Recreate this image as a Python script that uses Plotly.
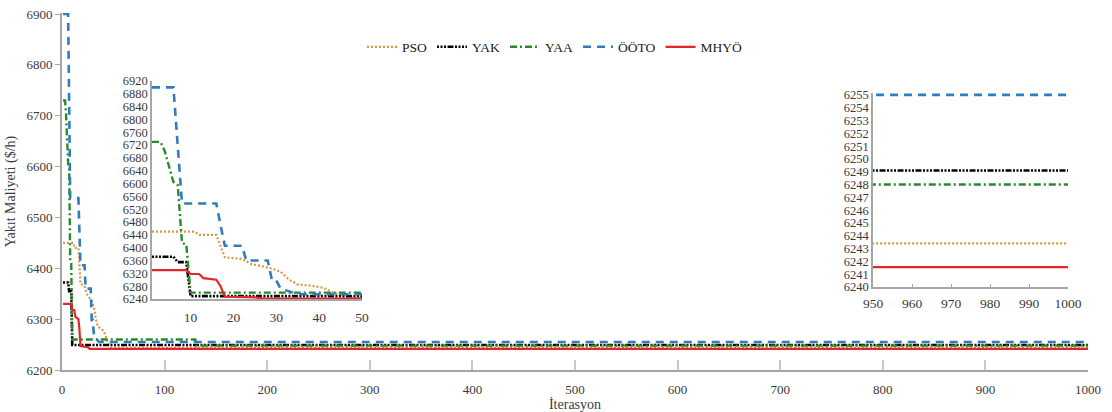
import plotly.graph_objects as go

# ---- data: (iteration, best cost) change points of each convergence curve ----
pso_iter = [1, 11, 12, 16, 18, 22, 24, 27, 29, 31, 33, 35, 38, 41, 43, 45, 48, 1000]
pso_val = [6450, 6450, 6440, 6440, 6370, 6365, 6350, 6340, 6335, 6325, 6300, 6285, 6282, 6275, 6262, 6252, 6243.4, 6243.4]

yak_iter = [1, 6, 7, 9, 10, 1000]
yak_val = [6372, 6372, 6355, 6355, 6249.1, 6249.1]

yaa_iter = [1, 3, 4, 6, 7, 8, 9, 10, 130, 131, 1000]
yaa_val = [6730, 6730, 6700, 6605, 6595, 6415, 6410, 6260, 6260, 6248, 6248]

ooto_iter = [1, 6, 8, 16, 17, 18, 22, 23, 28, 29, 30, 31, 34, 36, 1000]
ooto_val = [6900, 6900, 6538, 6538, 6470, 6406, 6406, 6360, 6360, 6298, 6298, 6272, 6260, 6255, 6255]

mhyo_iter = [1, 9, 10, 12, 13, 15, 16, 17, 18, 25, 27, 1000]
mhyo_val = [6330, 6330, 6318, 6318, 6305, 6302, 6300, 6280, 6247, 6245, 6241.55, 6241.55]

names = ["PSO", "YAK", "YAA", "ÖÖTO", "MHYÖ"]
colors = ["#DB973A", "#000000", "#2A8A2A", "#2F7DC0", "#E3262A"]
dashes = ["2px,2px", "2px,1.5px,2px,1.5px,2px,1.5px,6px,1.5px", "7px,3px,2px,3px", "8px,6px", "solid"]
widths = [2.2, 2.6, 2.4, 2.6, 2.2]
series = [(pso_iter, pso_val), (yak_iter, yak_val), (yaa_iter, yaa_val),
          (ooto_iter, ooto_val), (mhyo_iter, mhyo_val)]

FONT = "Liberation Serif"
AX = "#A6A6A6"
TXT = "#3A3A3A"

fig = go.Figure()
for axes, show in [(("x", "y"), True), (("x2", "y2"), False), (("x3", "y3"), False)]:
    for (xs, ys), n, c, d, w in zip(series, names, colors, dashes, widths):
        fig.add_trace(go.Scatter(
            x=xs, y=ys, mode="lines", name=n, showlegend=show,
            xaxis=axes[0], yaxis=axes[1],
            line=dict(color=c, dash=d, width=w),
        ))

W, H = 1112, 412
L, R, T, B = 62, 24, 13, 42
pw, ph = W - L - R, H - T - B

def dx(px):
    return (px - L) / pw

def dy(py):
    return (H - B - py) / ph

fig.update_layout(
    width=W, height=H,
    margin=dict(l=L, r=R, t=T, b=B, autoexpand=False),
    paper_bgcolor="white", plot_bgcolor="white",
    font=dict(family=FONT, size=13, color=TXT),
    legend=dict(orientation="h", x=dx(555), xanchor="center", y=dy(47), yanchor="middle",
                font=dict(family=FONT, size=13.5, color="#222222"), itemwidth=30,
                bgcolor="rgba(0,0,0,0)", tracegroupgap=0),
    xaxis=dict(range=[0, 1000], tickvals=list(range(0, 1001, 100)), showgrid=False,
               zeroline=False, showline=True, linecolor=AX, linewidth=2, automargin=False,
               ticks="inside", ticklen=10, tickcolor="#C8C8C8", tickwidth=1.5,
               ticklabelstandoff=6,
               title=dict(text="İterasyon", standoff=4, font=dict(size=14)),
               tickfont=dict(size=13)),
    yaxis=dict(range=[6200, 6902], tickvals=list(range(6200, 6901, 100)), showgrid=False,
               zeroline=False, showline=True, linecolor=AX, linewidth=2, automargin=False,
               ticks="outside", ticklen=5, tickcolor=AX,
               title=dict(text="Yakıt Maliyeti ($/h)", standoff=8, font=dict(size=14)),
               tickfont=dict(size=13)),
    xaxis2=dict(domain=[dx(152), dx(362)], anchor="y2", range=[1, 50],
                tickvals=[10, 20, 30, 40, 50], showgrid=False, zeroline=False,
                showline=True, linecolor=AX, linewidth=1.5, ticks="", automargin=False,
                ticklabelstandoff=5, tickfont=dict(size=13.5)),
    yaxis2=dict(domain=[dy(299), dy(81)], anchor="x2", range=[6240, 6920],
                tickvals=list(range(6240, 6921, 40)), showgrid=False, zeroline=False,
                showline=True, linecolor=AX, linewidth=1.5, ticks="", automargin=False,
                tickfont=dict(size=12.5)),
    xaxis3=dict(domain=[dx(873), dx(1068)], anchor="y3", range=[950, 1000],
                tickvals=list(range(950, 1001, 10)), showgrid=False, zeroline=False,
                showline=True, linecolor=AX, linewidth=1.5, ticks="inside", ticklen=3,
                tickcolor=AX, ticklabelstandoff=3, automargin=False, tickfont=dict(size=13.5)),
    yaxis3=dict(domain=[dy(287), dy(93)], anchor="x3", range=[6240, 6255.15],
                tickvals=list(range(6240, 6256, 1)), showgrid=False, zeroline=False,
                showline=True, linecolor=AX, linewidth=1.5, ticks="", automargin=False,
                tickfont=dict(size=12.5)),
)

fig.write_html("out.html")
